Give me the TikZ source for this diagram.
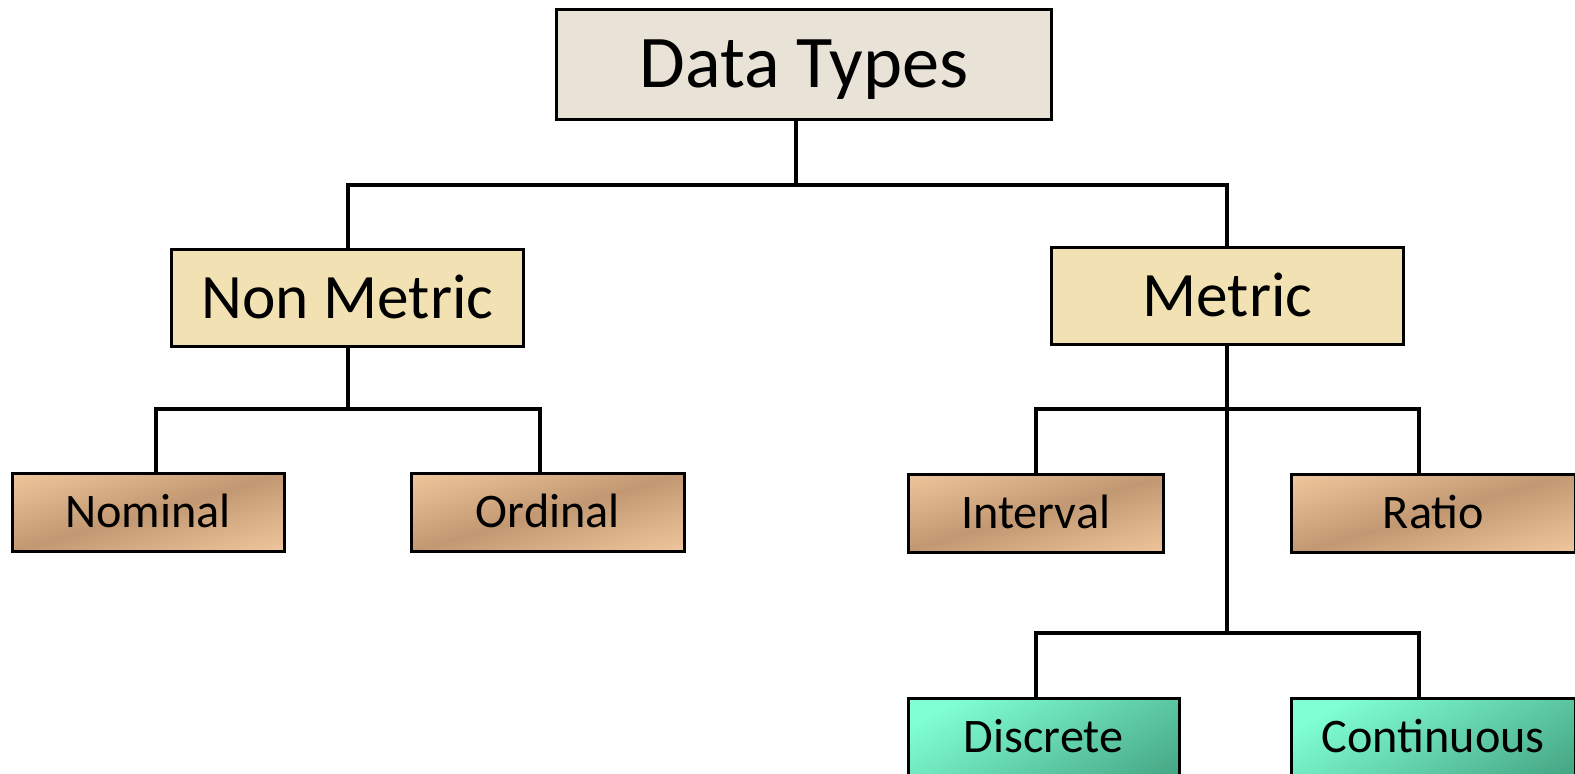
\documentclass[tikz,border=0pt]{standalone}
\usepackage{fontspec}
\setmainfont{Carlito}
\usetikzlibrary{calc}
\definecolor{greige}{RGB}{233,226,214}
\definecolor{papyrus}{RGB}{242,225,178}
\definecolor{peachlt}{RGB}{252,212,168}
\definecolor{peachdk}{RGB}{194,152,114}
\definecolor{teallt}{RGB}{128,255,212}
\definecolor{tealdk}{RGB}{58,148,116}
\pgfdeclareverticalshading{copper}{100bp}{color(0bp)=(peachlt); color(30bp)=(peachlt); color(50bp)=(peachdk); color(70bp)=(peachlt); color(100bp)=(peachlt)}
\pgfdeclareverticalshading{seagreen}{100bp}{color(0bp)=(tealdk); color(22bp)=(tealdk); color(66bp)=(teallt); color(100bp)=(teallt)}
\tikzset{
    box/.style={draw=black,line width=1.5pt,rectangle,inner sep=0pt,text depth=0pt},
    sheen/.style 2 args={path picture={
        \shade[shading=#1,transform canvas={rotate around={#2:(path picture bounding box.center)}}]
          ($(path picture bounding box.center)+(-240,-120)$) rectangle ($(path picture bounding box.center)+(240,120)$);}},
    root/.style={box,fill=greige,minimum width=246.5pt,minimum height=55pt,text height=23.5pt,font=\fontsize{37}{42}\selectfont},
    branch/.style={box,fill=papyrus,minimum width=175pt,minimum height=48.5pt,text height=20.3pt,font=\fontsize{31.5}{36}\selectfont},
    leaf/.style={box,sheen={copper}{16},minimum height=39pt,text height=15.2pt,font=\fontsize{24}{28}\selectfont},
    subleaf/.style={box,sheen={seagreen}{30},minimum height=39pt,text height=15.2pt,font=\fontsize{24}{28}\selectfont},
    wire/.style={line width=2pt},
  }
\begin{document}
\begin{tikzpicture}[x=0.5pt,y=-0.5pt]
				  %x,y in pixels of the page, y downwards
				  \useasboundingbox (0,0) rectangle (1568,770);
				  \node[root](dt) at (800.5,64) {Data Types};
				  \node[branch](nm) at (346,296.5) {Non Metric};
				  \node[branch](me) at (1222,294.5) {Metric};
				  \node[leaf,minimum width=135.5pt](no) at (147.5,510) {Nominal};
				  \node[leaf,minimum width=135.5pt](od) at (545.5,510) {Ordinal};
				  \node[leaf,minimum width=127pt](iv) at (1031,511) {Interval};
				  \node[leaf,minimum width=141pt](ra) at (1427,511) {Ratio};
				  \node[subleaf,minimum width=135pt](di) at (1039,734) {Discrete};
				  \node[subleaf,minimum width=141pt](co) at (1427,734) {Continuous};
				  %junctions
				  \coordinate (top) at (792,184);
				  \coordinate (nmj) at (346,407);
				  \coordinate (nml) at (155,407);
				  \coordinate (nmr) at (538,407);
				  \coordinate (mel) at (1031,407);
				  \coordinate (mer) at (1413,407);
				  \coordinate (sbj) at (1222,630);
				  \coordinate (sbl) at (1031,630);
				  \coordinate (sbr) at (1413,630);
				  \draw[wire] (dt.south -| top) -- (top);
				  \draw[wire] (nm.north) |- (top) -| (me.north);
				  \draw[wire] (nm.south) -- (nmj);
				  \draw[wire] (nml |- no.north) -- (nml) -- (nmr) -- (nmr |- od.north);
				  \draw[wire] (me.south) -- (sbj);
				  \draw[wire] (mel |- iv.north) -- (mel) -- (mer) -- (mer |- ra.north);
				  \draw[wire] (sbl |- di.north) -- (sbl) -- (sbr) -- (sbr |- co.north);
				  \end{tikzpicture}
\end{document}
